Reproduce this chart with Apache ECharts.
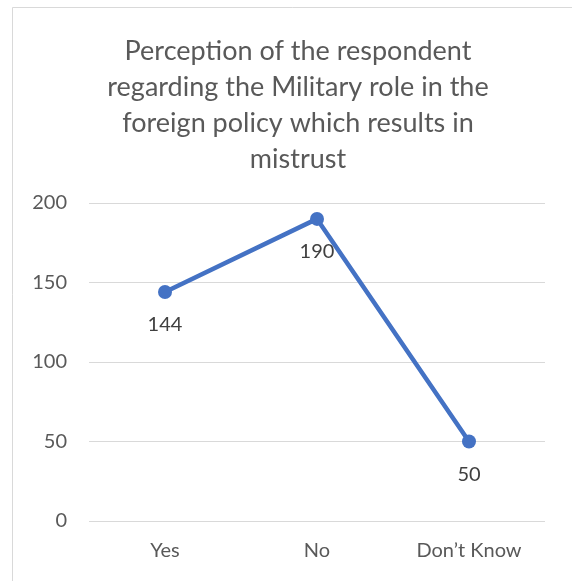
<!DOCTYPE html>
<html>
<head>
<meta charset="utf-8">
<script src="https://cdn.jsdelivr.net/npm/echarts@6/dist/echarts.min.js"></script>
<style>
html,body{margin:0;padding:0;background:#fff;}
#chart{width:572px;height:581px;}
</style>
</head>
<body>
<div id="chart"></div>
<script>
const titleText = "Perception of the respondent\nregarding the Military role in the\nforeign policy which results in\nmistrust";
const categories = ["Yes", "No", "Don\u2019t Know"];
const values = [144, 190, 50];
const yTicks = { min: 0, max: 200, interval: 50 };

const chart = echarts.init(document.getElementById('chart'), null, { renderer: 'canvas' });
const font = 'Lato, "Open Sans", sans-serif';
chart.setOption({
  animation: false,
  backgroundColor: '#ffffff',
  title: {
    text: titleText,
    left: 293,
    top: 28,
    textAlign: 'center',
    textStyle: {
      fontFamily: font,
      fontSize: 27,
      fontWeight: 'normal',
      color: '#595959',
      lineHeight: 36
    }
  },
  graphic: [
    { type: 'line', shape: { x1: 12.5, y1: 7.5, x2: 572, y2: 7.5 }, style: { stroke: '#d9d9d9', lineWidth: 1 } },
    { type: 'line', shape: { x1: 12.5, y1: 7.5, x2: 12.5, y2: 581 }, style: { stroke: '#d9d9d9', lineWidth: 1 } }
  ],
  grid: { left: 89, right: 27, top: 203, bottom: 60, containLabel: false },
  xAxis: {
    type: 'category',
    data: categories,
    boundaryGap: true,
    axisLine: { show: false },
    axisTick: { show: false },
    axisLabel: { fontFamily: font, fontSize: 20, color: '#595959', margin: 20 }
  },
  yAxis: {
    type: 'value',
    min: yTicks.min,
    max: yTicks.max,
    interval: yTicks.interval,
    axisLine: { show: false },
    axisTick: { show: false },
    splitLine: { lineStyle: { color: '#d9d9d9', width: 1 } },
    axisLabel: { fontFamily: font, fontSize: 20, color: '#595959', margin: 22 }
  },
  series: [{
    type: 'line',
    data: values,
    symbol: 'circle',
    symbolSize: 14,
    itemStyle: { color: '#4472c4' },
    lineStyle: { color: '#4472c4', width: 4.5 },
    label: {
      show: true,
      position: 'bottom',
      distance: 16,
      fontFamily: font,
      fontSize: 20,
      color: '#404040'
    }
  }]
});
</script>
</body>
</html>
